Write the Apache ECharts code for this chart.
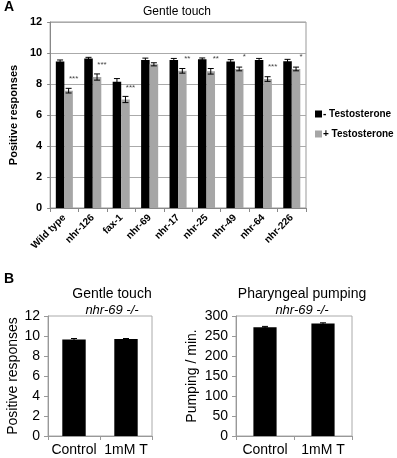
<!DOCTYPE html>
<html><head><meta charset="utf-8">
<script src="https://cdn.jsdelivr.net/npm/echarts@6/dist/echarts.min.js"></script>
<style>html,body{margin:0;padding:0;background:#fff}#c{width:397px;height:458px}</style>
</head><body><div id="c"></div>
<script>
var strains = ['Wild type','nhr-126','fax-1','nhr-69','nhr-17','nhr-25','nhr-49','nhr-64','nhr-226'];
var minusT = [9.45,9.65,8.15,9.55,9.55,9.6,9.45,9.55,9.47];
var minusErr = [0.1,0.07,0.2,0.12,0.1,0.08,0.12,0.1,0.12];
var plusT = [7.57,8.45,7.0,9.27,8.85,8.82,8.97,8.32,8.97];
var plusErr = [0.15,0.2,0.2,0.1,0.15,0.18,0.12,0.15,0.12];
var stars = ['***','***','***','','**','**','*','***','*'];
var yTicksA = [0,2,4,6,8,10,12];

var bCats = ['Control','1mM T'];
var touchB = [9.65,9.7];
var touchBErr = [0.1,0.05];
var pumpB = [272,281];
var pumpBErr = [2,2];

var F = 'Liberation Sans, Arial, sans-serif';
var chart = echarts.init(document.getElementById('c'));

function errSeries(xi, yi, vals, errs, offFrac, starArr){
  return {
    type:'custom', xAxisIndex:xi, yAxisIndex:yi, z:5,
    data: vals.map(function(v,i){return [i,v,errs[i]];}),
    renderItem:function(params, api){
      var i=api.value(0), v=api.value(1), e=api.value(2);
      var band=api.size([1,0])[0];
      var c=api.coord([i,v]);
      var x=c[0]+band*offFrac;
      var top=api.coord([i,v+e])[1], bot=api.coord([i,v-e])[1];
      var w=3;
      var kids=[
        {type:'line',shape:{x1:x,y1:top,x2:x,y2:bot},style:{stroke:'#000',lineWidth:1}},
        {type:'line',shape:{x1:x-w,y1:top,x2:x+w,y2:top},style:{stroke:'#000',lineWidth:1}},
        {type:'line',shape:{x1:x-w,y1:bot,x2:x+w,y2:bot},style:{stroke:'#000',lineWidth:1}}
      ];
      if(starArr && starArr[i]){
        kids.push({type:'text',style:{text:starArr[i],x:x+5,y:c[1]-12,align:'center',verticalAlign:'middle',fontSize:8,fontFamily:F,fill:'#444'}});
      }
      return {type:'group',children:kids};
    }
  };
}

var option = {
  animation:false,
  textStyle:{fontFamily:F},
  title:[
    {text:'Gentle touch',left:172,top:1,textAlign:'center',textStyle:{fontSize:12,fontWeight:'normal',color:'#000',fontFamily:F}},
    {text:'Gentle touch',left:107,top:282,textAlign:'center',textStyle:{fontSize:14,fontWeight:'normal',color:'#000',fontFamily:F}},
    {text:'nhr-69 -/-',left:107,top:299,textAlign:'center',textStyle:{fontSize:13,fontStyle:'italic',fontWeight:'normal',color:'#000',fontFamily:F}},
    {text:'Pharyngeal pumping',left:297,top:282,textAlign:'center',textStyle:{fontSize:14,fontWeight:'normal',color:'#000',fontFamily:F}},
    {text:'nhr-69 -/-',left:297,top:299,textAlign:'center',textStyle:{fontSize:13,fontStyle:'italic',fontWeight:'normal',color:'#000',fontFamily:F}}
  ],
  graphic:[
    {type:'text',left:4,top:0,style:{text:'A',fontSize:14,fontWeight:'bold',fontFamily:F,fill:'#000'}},
    {type:'text',left:4,top:272,style:{text:'B',fontSize:14,fontWeight:'bold',fontFamily:F,fill:'#000'}}
  ],
  legend:{
    orient:'vertical',left:310,top:104,itemWidth:7,itemHeight:7,itemGap:10,
    data:['- Testosterone','+ Testosterone'],
    textStyle:{fontSize:10,fontWeight:'bold',fontFamily:F,color:'#000',padding:[0,0,0,-4]},
    icon:'rect'
  },
  grid:[
    {left:38,top:22,width:268,height:186,show:true,borderColor:'#999',borderWidth:1},
    {left:48,top:316,width:104,height:120,show:true,borderColor:'#aaa',borderWidth:1},
    {left:236,top:316,width:116,height:120,show:true,borderColor:'#aaa',borderWidth:1}
  ],
  xAxis:[
    {type:'category',gridIndex:0,data:strains,
     axisLine:{lineStyle:{color:'#888'}},axisTick:{show:true,length:4,lineStyle:{color:'#888'}},
     axisLabel:{rotate:45,fontSize:10,fontWeight:'bold',color:'#000',margin:8,interval:0}},
    {type:'category',gridIndex:1,data:bCats,
     axisLine:{lineStyle:{color:'#999'}},axisTick:{show:true,length:4,lineStyle:{color:'#999'}},
     axisLabel:{fontSize:14,color:'#000',margin:7,interval:0}},
    {type:'category',gridIndex:2,data:bCats,
     axisLine:{lineStyle:{color:'#999'}},axisTick:{show:true,length:4,lineStyle:{color:'#999'}},
     axisLabel:{fontSize:14,color:'#000',margin:7,interval:0}}
  ],
  yAxis:[
    {type:'value',gridIndex:0,min:0,max:12,interval:2,
     name:'Positive responses',nameLocation:'middle',nameGap:21,nameTextStyle:{fontSize:11,fontWeight:'bold',color:'#000'},
     axisLine:{show:true,lineStyle:{color:'#888'}},axisTick:{show:true,length:3,lineStyle:{color:'#888'}},
     splitLine:{lineStyle:{color:'#aaa'}},
     axisLabel:{fontSize:11,fontWeight:'bold',color:'#000'}},
    {type:'value',gridIndex:1,min:0,max:12,interval:2,
     name:'Positive responses',nameLocation:'middle',nameGap:27,nameTextStyle:{fontSize:14,color:'#000'},
     axisLine:{show:true,lineStyle:{color:'#999'}},axisTick:{show:true,length:4,lineStyle:{color:'#999'}},
     splitLine:{show:false},
     axisLabel:{fontSize:14,color:'#000'}},
    {type:'value',gridIndex:2,min:0,max:300,interval:50,
     name:'Pumping / min.',nameLocation:'middle',nameGap:37,nameTextStyle:{fontSize:14,color:'#000'},
     axisLine:{show:true,lineStyle:{color:'#999'}},axisTick:{show:true,length:4,lineStyle:{color:'#999'}},
     splitLine:{show:false},
     axisLabel:{fontSize:14,color:'#000'}}
  ],
  series:[
    {name:'- Testosterone',type:'bar',xAxisIndex:0,yAxisIndex:0,data:minusT,barGap:0,barCategoryGap:'40%',itemStyle:{color:'#000'}},
    {name:'+ Testosterone',type:'bar',xAxisIndex:0,yAxisIndex:0,data:plusT,barGap:0,barCategoryGap:'40%',itemStyle:{color:'#a6a6a6'}},
    errSeries(0,0,minusT,minusErr,-0.15,null),
    errSeries(0,0,plusT,plusErr,0.15,stars),
    {type:'bar',xAxisIndex:1,yAxisIndex:1,data:touchB,barWidth:'45%',itemStyle:{color:'#000'}},
    errSeries(1,1,touchB,touchBErr,0,null),
    {type:'bar',xAxisIndex:2,yAxisIndex:2,data:pumpB,barWidth:'40%',itemStyle:{color:'#000'}},
    errSeries(2,2,pumpB,pumpBErr,0,null)
  ]
};
chart.setOption(option);
</script></body></html>
